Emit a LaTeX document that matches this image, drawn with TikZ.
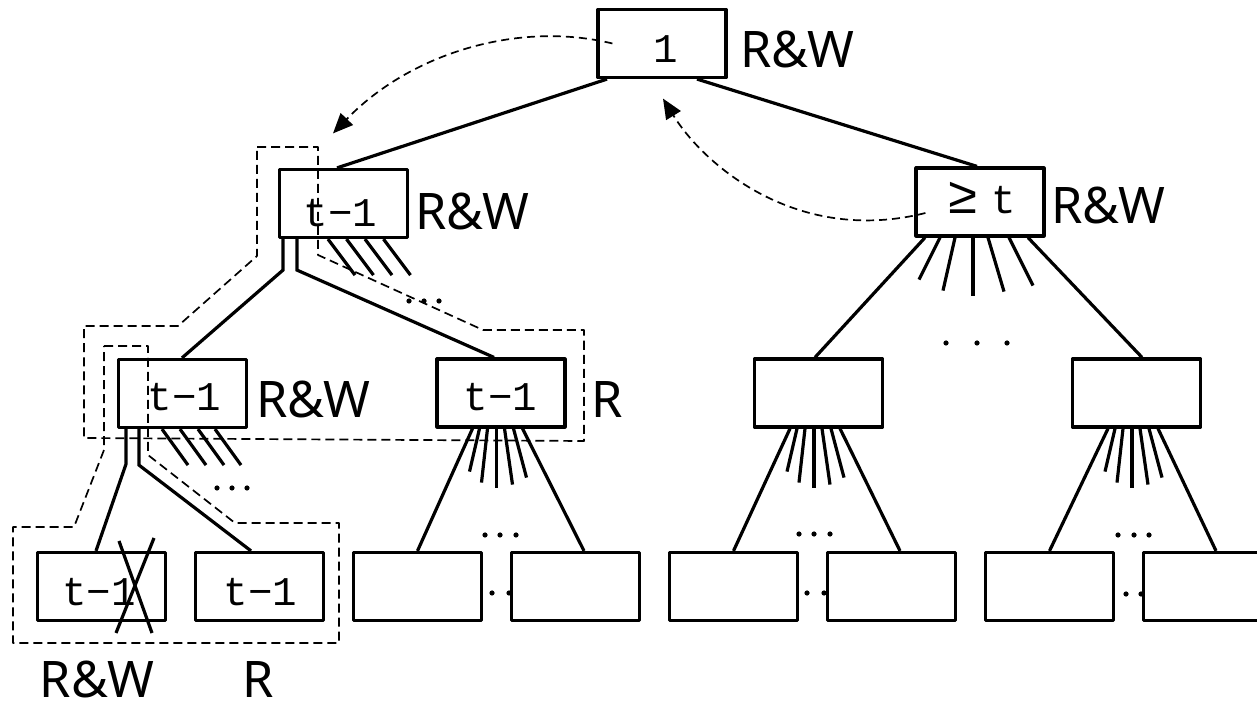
\documentclass[tikz,border=0pt]{standalone}
\usepackage{fontspec}
\setsansfont{Noto Sans}
\newfontfamily\boxfont{Liberation Mono}
\usetikzlibrary{arrows.meta,calc}

\begin{document}
\begin{tikzpicture}[x=0.5pt,y=-0.5pt,
  box/.style={draw, fill=white, line width=1.6pt, line join=round,
    minimum width=64pt, minimum height=34pt, inner sep=0pt},
  conn/.style={line width=1.6pt},
  region/.style={line width=0.85pt, line join=round, dash pattern=on 4.5pt off 2.5pt},
  hop/.style={line width=0.85pt, dash pattern=on 4pt off 2.5pt,
    -{Triangle[length=10pt,width=8.5pt]}},
  val/.style={font=\boxfont\fontsize{20.4pt}{24pt}\selectfont, inner sep=0pt, anchor=base},
  acc/.style={font=\sffamily\fontsize{25.2pt}{30pt}\selectfont, inner sep=0pt,
    text depth=0pt, anchor=base},
]
\clip (0,0) rectangle (1257,704);

% ellipsis dots (partly hidden behind the leaf boxes)
\foreach \x/\y in {409/301, 424/301, 439/301,
                   217/488, 232/488, 247/488,
                   946/343, 977/343, 1007/343,
                   485/535, 500/535, 516/535,
                   799/534, 814/534, 830/534,
                   1118/535, 1134/535, 1149/535,
                   492/593, 509/593, 807/593, 824/593, 1126/594, 1141/594}
  \fill (\x,\y) circle[radius=1.3pt];

% tree nodes
\node[box] (R) at (662,43.5) {};
\node[box] (A) at (343.5,203.5) {};
\node[box] (B) at (980,202) {};
\node[box] (C) at (182.5,393.5) {};
\node[box] (D) at (501,393) {};
\node[box] (E) at (818.5,393) {};
\node[box] (F) at (1136.5,393) {};
\foreach \n/\x in {G/101.5, H/259.5, I/417.5, J/575.5, K/733.5, L/891.5, M/1049.5, N/1207.5}
  \node[box] (\n) at (\x,586.5) {};

% edges from the root
\draw[conn] ($(R.south)+(-55,0)$) -- ($(A.north)+(-6.5,0)$);
\draw[conn] ($(R.south)+(35,0)$) -- ($(B.north)+(-3,0)$);

% left subtree: two explicit children plus a hatch of further pointers
\draw[conn] ($(A.south)+(-60.5,0)$) -- ++(0,31) -- ($(C.north)+(-0.5,0)$);
\draw[conn] ($(A.south)+(-46.5,0)$) -- ++(0,31) -- ($(D.north)+(-7,0)$);
\foreach \dx in {-15.5,3,21.5,40}
  \draw[conn] ($(A.south)+(\dx,0)$) -- ++(27,36);

\draw[conn] ($(C.south)+(-56.5,0)$) -- ++(0,35) -- ($(G.north)+(-5.5,0)$);
\draw[conn] ($(C.south)+(-43.5,0)$) -- ++(0,36) -- ($(H.north)+(-8.5,0)$);
\foreach \dx in {-20.5,-2.5,15.5,32.5}
  \draw[conn] ($(C.south)+(\dx,0)$) -- ++(26,36);

% fans below the inner nodes
\draw[conn] ($(B.south)+(-55,0)$) -- ($(E.north)+(-3.5,0)$);
\draw[conn] ($(B.south)+(48,0)$) -- ($(F.north)+(5.5,0)$);
\foreach \s/\e/\h in {-33/-54/42, -18/-30/53, 0/0/58, 15/31/54, 36/60/48}
  \draw[conn] ($(B.south)+(\s-7,0)$) -- ($(B.south)+(\e-7,\h)$);

\foreach \p/\l/\r in {D/I/J, E/K/L, F/M/N} {
  \draw[conn] ($(\p.south)+(-28.5,0)$) -- (\l.north);
  \draw[conn] ($(\p.south)+(21.5,0)$) -- ($(\r.north)+(8.5,0)$);
  \foreach \s/\e/\h in {-17/-27/43, -9/-15/54, 0/0/59, 8/16/56, 17/30/49}
    \draw[conn] ($(\p.south)+(\s-4.5,0)$) -- ($(\p.south)+(\e-4.5,\h)$);
}

% crossed-out leaf
\draw[conn] ($(G.center)+(17.5,-45.5)$) -- ($(G.center)+(50.5,46.5)$);
\draw[conn] ($(G.center)+(52.5,-48.5)$) -- ($(G.center)+(14.5,46.5)$);

% node contents
\node[val] (tR) at (666,63) {1};
\node[val] (tA) at (340.5,227) {t−1};
\node[val] (tB) at (981.5,214) {{\fontsize{26pt}{26pt}\selectfont ≥}\kern-5.75pt\ t};
\node[val] (tC) at (184.5,411) {t−1};
\node[val] (tD) at (500.5,411) {t−1};
\node[val] (tG) at (99,606) {t−1};
\node[val] (tH) at (260.5,606) {t−1};

% access labels
\node[acc] (lR) at (797.5,68) {R\&W};
\node[acc] (lA) at (472.5,230) {R\&W};
\node[acc] (lB) at (1108.5,224) {R\&W};
\node[acc] (lC) at (313.5,418) {R\&W};
\node[acc] (lD) at (607,418) {R};
\node[acc] (lG) at (97,697) {R\&W};
\node[acc] (lH) at (258.5,697) {R};

% locked regions
\draw[region] (257,147) -- (318,147) -- (318,255) -- (483,330) -- (584,330)
  -- (584,441) -- (84,438) -- (84,326) -- (178,326) -- (257,256) -- cycle;
\draw[region] (104,346) -- (148,346) -- (148,455) -- (235,523) -- (339,523)
  -- (339,643) -- (13,643) -- (13,527) -- (74,527) -- (104,450) -- cycle;

% hand-over arrows
\draw[hop] ($(R.west)+(16,0)$) .. controls +(-94,-23) and +(77,-80)
  .. ($(A.north)+(-10.5,-34.5)$);
\draw[hop] ($(B.west)+(11,11)$) .. controls +(-127,32) and +(42,68)
  .. ($(R.south)+(1,19.5)$);
\end{tikzpicture}
\end{document}
